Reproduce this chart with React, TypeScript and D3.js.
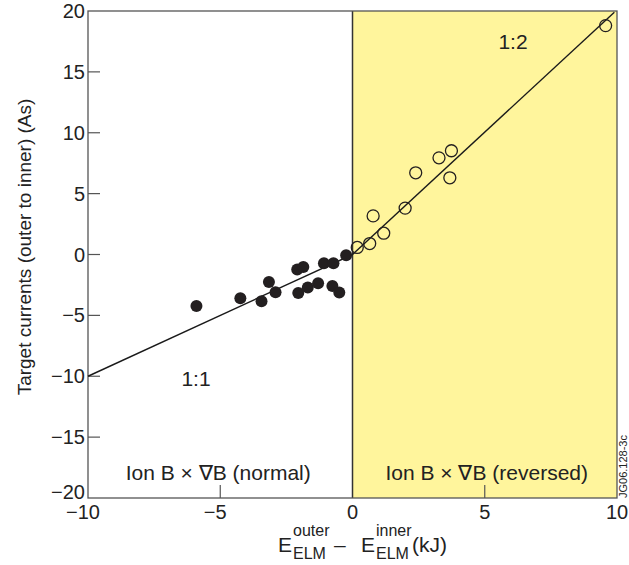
import React, { useRef, useEffect } from "react";
import * as d3 from "d3";

// filled circles: normal B x grad B
const normalX = [-5.9, -4.24, -3.44, -3.16, -2.91, -2.09, -1.86, -2.05, -1.69, -1.3, -1.08, -0.72, -0.76, -0.5, -0.24];
const normalY = [-4.23, -3.59, -3.84, -2.25, -3.1, -1.23, -1.02, -3.16, -2.71, -2.36, -0.72, -0.72, -2.58, -3.13, -0.06];
// open circles: reversed field
const reversedX = [0.18, 0.65, 1.18, 0.78, 1.99, 2.39, 3.27, 3.74, 3.68, 9.57];
const reversedY = [0.58, 0.9, 1.75, 3.17, 3.81, 6.71, 7.94, 8.52, 6.3, 18.8];

const fitNormal = [[-10, -10], [0, 0]];
const fitReversed = [[0, 0], [9.9, 19.9]];

const xTicks = [-10, -5, 0, 5, 10];
const yTicks = [20, 15, 10, 5, 0, -5, -10, -15, -20];

const fmt = (v: number) => (v < 0 ? "\u2212" + Math.abs(v) : String(v));

const App = () => {
  const ref = useRef<SVGSVGElement>(null);

  useEffect(() => {
    const svg = d3.select(ref.current);
    svg.selectAll("*").remove();

    const width = 629;
    const height = 565;
    const left = 88, right = 617, top = 11, bottom = 498;
    const font = "Liberation Sans, Arial, sans-serif";
    const ink = "#222";

    const x = d3.scaleLinear().domain([-10, 10]).range([left, right]);
    const y = d3.scaleLinear().domain([-20, 20]).range([bottom, top]);

    svg.attr("width", width).attr("height", height);

    // reversed region shading
    svg.append("rect")
      .attr("x", x(0))
      .attr("y", top)
      .attr("width", x(10) - x(0))
      .attr("height", bottom - top)
      .attr("fill", "#fff59c");

    // divider at zero
    svg.append("line")
      .attr("x1", x(0)).attr("x2", x(0))
      .attr("y1", top).attr("y2", bottom)
      .attr("stroke", "#333")
      .attr("stroke-width", 1.5);

    // frame
    svg.append("rect")
      .attr("x", left).attr("y", top)
      .attr("width", right - left).attr("height", bottom - top)
      .attr("fill", "none")
      .attr("stroke", "#555")
      .attr("stroke-width", 1.3);

    // y ticks (inward)
    yTicks.forEach((t) => {
      if (t !== 20 && t !== -20) {
        svg.append("line")
          .attr("x1", left).attr("x2", left + 12)
          .attr("y1", y(t)).attr("y2", y(t))
          .attr("stroke", "#555").attr("stroke-width", 1.2);
      }
      svg.append("text")
        .attr("x", left - 3)
        .attr("y", y(t) + (t === -20 ? 1 : 7))
        .attr("text-anchor", "end")
        .attr("font-family", font)
        .attr("font-size", "20px")
        .attr("fill", ink)
        .text(fmt(t));
    });

    // x ticks
    xTicks.forEach((t) => {
      if (t === -5 || t === 5) {
        svg.append("line")
          .attr("x1", x(t)).attr("x2", x(t))
          .attr("y1", bottom).attr("y2", bottom - 13)
          .attr("stroke", "#555").attr("stroke-width", 1.2);
      }
      svg.append("text")
        .attr("x", x(t) - (t < 0 ? 5 : 0))
        .attr("y", bottom + 21)
        .attr("text-anchor", "middle")
        .attr("font-family", font)
        .attr("font-size", "20px")
        .attr("fill", ink)
        .text(fmt(t));
    });

    // fit lines
    const line = d3.line<number[]>().x((d) => x(d[0])).y((d) => y(d[1]));
    [fitNormal, fitReversed].forEach((seg) => {
      svg.append("path")
        .attr("d", line(seg))
        .attr("fill", "none")
        .attr("stroke", "#1a1a1a")
        .attr("stroke-width", 1.4);
    });

    // points
    svg.append("g").selectAll("circle")
      .data(normalX.map((v, i) => [v, normalY[i]]))
      .enter()
      .append("circle")
      .attr("cx", (d) => x(d[0]))
      .attr("cy", (d) => y(d[1]))
      .attr("r", 6)
      .attr("fill", "#231f20");

    svg.append("g").selectAll("circle")
      .data(reversedX.map((v, i) => [v, reversedY[i]]))
      .enter()
      .append("circle")
      .attr("cx", (d) => x(d[0]))
      .attr("cy", (d) => y(d[1]))
      .attr("r", 6)
      .attr("fill", "none")
      .attr("stroke", "#231f20")
      .attr("stroke-width", 1.3);

    // annotations
    const note = (tx: number, ty: number, s: string, size = 21, anchor = "middle") =>
      svg.append("text")
        .attr("x", tx).attr("y", ty)
        .attr("text-anchor", anchor)
        .attr("font-family", font)
        .attr("font-size", `${size}px`)
        .attr("fill", ink)
        .text(s);

    note(513, 49, "1:2");
    note(196, 386, "1:1");
    note(x(-5) - 2, 480, "Ion B \u00d7 \u2207B (normal)");
    note(x(5) + 2, 480, "Ion B \u00d7 \u2207B (reversed)");

    // y axis title
    svg.append("text")
      .attr("transform", `translate(31, 247) rotate(-90)`)
      .attr("text-anchor", "middle")
      .attr("font-family", font)
      .attr("font-size", "19px")
      .attr("fill", ink)
      .text("Target currents (outer to inner) (As)");

    // x axis title with sub/superscripts
    note(278, 552, "E", 21, "start");
    note(293, 536, "outer", 16, "start");
    note(293, 559, "ELM", 16, "start");
    note(334, 552, "\u2013", 21, "start");
    note(361, 552, "E", 21, "start");
    note(376, 536, "inner", 16, "start");
    note(376, 559, "ELM", 16, "start");
    note(412, 552, "(kJ)", 21, "start");

    // figure id
    svg.append("text")
      .attr("transform", `translate(627, 498) rotate(-90)`)
      .attr("text-anchor", "start")
      .attr("font-family", font)
      .attr("font-size", "11px")
      .attr("fill", ink)
      .text("JG06.128-3c");
  }, []);

  return <svg ref={ref} style={{ position: "absolute", left: 0, top: 0 }}></svg>;
};

export default App;
